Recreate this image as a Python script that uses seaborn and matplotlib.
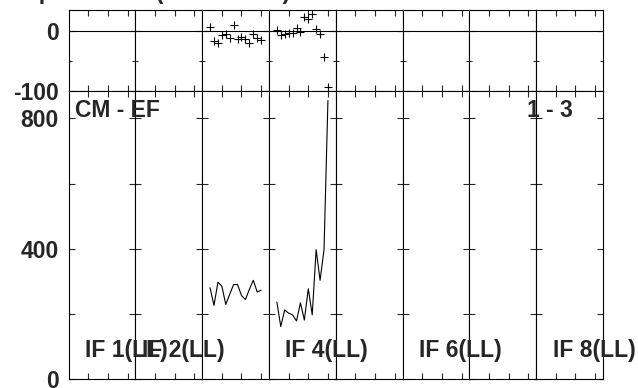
import numpy as np
import pandas as pd
import matplotlib
matplotlib.use('Agg')
import matplotlib.pyplot as plt
import seaborn as sns

# kanaly a hodnoty (jen IF 3 a IF 4 maji data)
channels = list(range(2, 16))
amp_if3 = [280, 226, 297, 285, 229, 260, 290, 290, 256, 244, 275, 303, 267, 273]
amp_if4 = [236, 161, 212, 202, 197, 178, 234, 181, 277, 197, 397, 303, 397, 855]
phase_if3 = [6.7, -16.7, -21, -6.7, -6, -11.7, 9.5, -13.3, -10, -14.3, -20, -6, -11.7, -15.5]
phase_if4 = [0.5, -7.5, -5, -4, -3.5, 4.5, -2.7, 22.5, 19, 27.8, 2.5, -5.5, -43, -94]
if_labels = ['IF 1(LL)', 'IF 2(LL)', 'IF 4(LL)', 'IF 6(LL)', 'IF 8(LL)']

df = pd.DataFrame({
    'IF': [3] * len(channels) + [4] * len(channels),
    'channel': channels * 2,
    'amp': amp_if3 + amp_if4,
    'phase': phase_if3 + phase_if4,
})

sns.set_style('ticks')
plt.rcParams['font.family'] = ['Liberation Sans', 'DejaVu Sans']
plt.rcParams['font.weight'] = 'bold'

fig, axs = plt.subplots(2, 8, figsize=(6.38, 3.88), dpi=100,
                        gridspec_kw=dict(left=68.6 / 638, right=603 / 638,
                                         top=1 - 10 / 388, bottom=1 - 379 / 388,
                                         wspace=0, hspace=0,
                                         height_ratios=[80.7, 288.3]))

for i in range(8):
    ax_ph, ax_amp = axs[0, i], axs[1, i]
    sub = df[df['IF'] == i + 1]
    if len(sub):
        sns.scatterplot(data=sub, x='channel', y='phase', ax=ax_ph, marker='+',
                        s=32, color='black', linewidth=0.8)
        sns.lineplot(data=sub, x='channel', y='amp', ax=ax_amp, color='black',
                     linewidth=0.8, estimator=None)
    ax_ph.axhline(0, color='black', lw=0.8)
    ax_ph.set_ylim(-100, 34.5)
    ax_ph.set_yticks([-100, 0])
    ax_ph.set_yticks([-50], minor=True)
    ax_amp.set_ylim(0, 885)
    ax_amp.set_yticks([0, 200, 400, 600, 800])
    for ax in (ax_ph, ax_amp):
        ax.set_xlim(0, 17)
        ax.set_xticks([5, 10, 15])
        ax.set_xlabel('')
        ax.set_ylabel('')
        ax.tick_params(which='both', direction='in', top=True, right=True,
                       length=4, width=0.8, labelbottom=False,
                       labelleft=(i == 0), labelsize=16.5, pad=7)
        ax.tick_params(which='minor', length=2.5)
        for sp in ax.spines.values():
            sp.set_linewidth(0.8)
            sp.set_color('black')

axs[0, 0].set_yticklabels(['-100', '0'])
axs[1, 0].set_yticklabels(['0', '', '400', '', '800'])


def px_text(x, y, s):
    fig.text(x / 638, 1 - y / 388, s, fontsize=16.5, fontweight='bold',
             va='baseline', ha='left')


px_text(75, 117, 'CM - EF')
px_text(527, 117, '1 - 3')
for x, s in zip([85, 142, 285, 419, 553], if_labels):
    px_text(x, 357, s)
# nadpis, ktery je v originale oriznuty hornim okrajem
px_text(2, -1.5, 'Amp & Phase (CM - EF LL)')

fig.savefig('out.png', dpi=100, facecolor='white')
